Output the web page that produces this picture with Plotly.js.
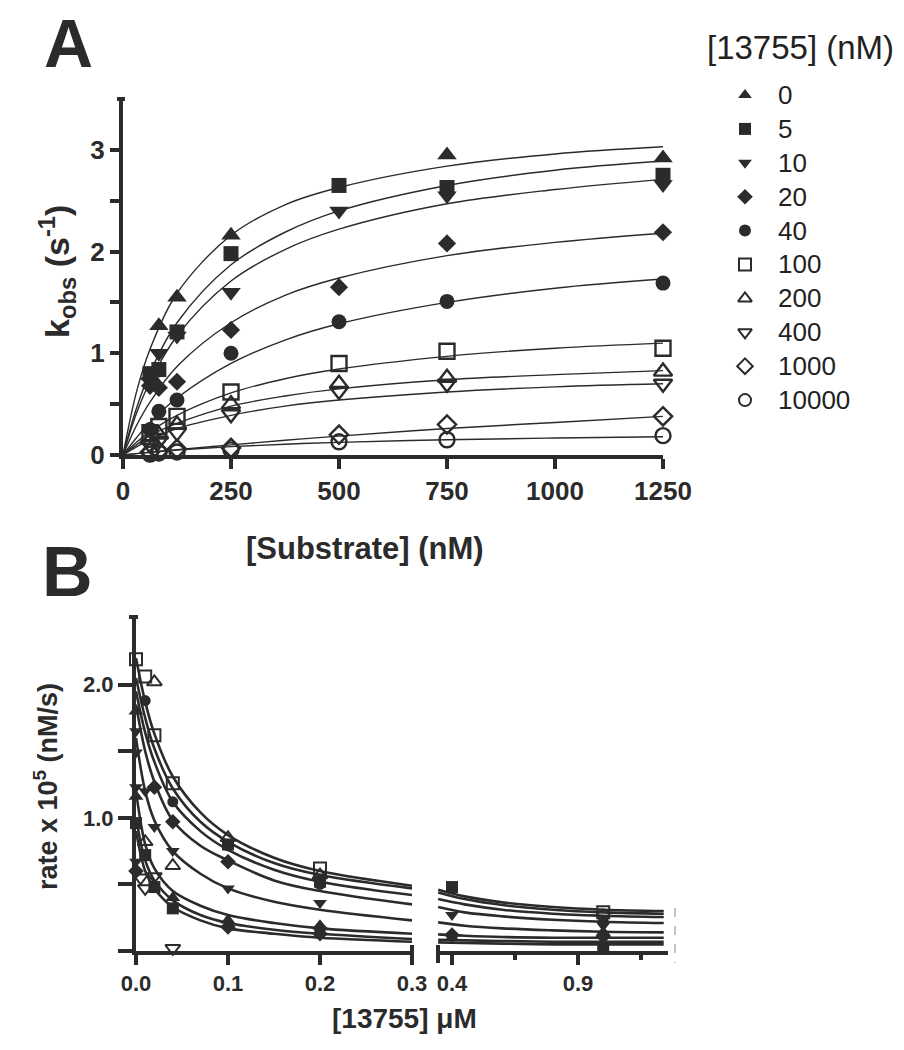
<!DOCTYPE html>
<html><head><meta charset="utf-8">
<script src="https://cdn.plot.ly/plotly-3.0.1.min.js"></script>
<style>html,body{margin:0;padding:0;background:#fff}</style>
</head><body><div id="chart" style="width:904px;height:1050px"></div>
<script>
// ---------- Panel A data ----------
const substrateNM = [62.5, 83, 125, 250, 500, 750, 1250];
const inhibitorLabels = ['0', '5', '10', '20', '40', '100', '200', '400', '1000', '10000'];
const kobs_0     = [0.78, 1.27, 1.55, 2.16, null, 2.95, 2.92];
const kobs_5     = [0.80, 0.84, 1.21, 1.98, 2.65, 2.63, 2.75];
const kobs_10    = [0.72, 1.00, 1.17, 1.60, 2.40, 2.55, 2.66];
const kobs_20    = [0.68, 0.66, 0.72, 1.23, 1.65, 2.08, 2.19];
const kobs_40    = [0.25, 0.43, 0.54, 1.00, 1.31, 1.51, 1.69];
const kobs_100   = [0.22, 0.28, 0.38, 0.62, 0.90, 1.02, 1.05];
const kobs_200   = [0.15, 0.20, 0.30, 0.50, 0.70, 0.76, 0.82];
const kobs_400   = [0.10, 0.14, 0.22, 0.40, 0.63, 0.70, 0.70];
const kobs_1000  = [0.03, 0.04, 0.06, 0.07, 0.20, 0.30, 0.38];
const kobs_10000 = [0.01, 0.02, 0.03, 0.05, 0.13, 0.15, 0.19];

// fitted curves
const fitSubstrateNM = [0, 31.25, 62.5, 125, 250, 375, 500, 750, 1000, 1250];
const fit_0     = [0, 0.62, 1.04, 1.59, 2.16, 2.46, 2.63, 2.84, 2.96, 3.03];
const fit_5     = [0, 0.46, 0.81, 1.30, 1.87, 2.19, 2.40, 2.65, 2.80, 2.89];
const fit_10    = [0, 0.41, 0.72, 1.17, 1.71, 2.02, 2.22, 2.47, 2.61, 2.71];
const fit_20    = [0, 0.29, 0.52, 0.87, 1.30, 1.57, 1.74, 1.96, 2.09, 2.18];
const fit_40    = [0, 0.17, 0.32, 0.56, 0.90, 1.13, 1.29, 1.50, 1.64, 1.73];
const fit_100   = [0, 0.125, 0.23, 0.39, 0.61, 0.75, 0.845, 0.97, 1.05, 1.10];
const fit_200   = [0, 0.10, 0.19, 0.31, 0.48, 0.58, 0.65, 0.74, 0.79, 0.83];
const fit_400   = [0, 0.08, 0.15, 0.26, 0.39, 0.48, 0.54, 0.62, 0.67, 0.70];
const fit_1000  = [0, 0.014, 0.027, 0.053, 0.10, 0.145, 0.186, 0.26, 0.32, 0.38];
const fit_10000 = [0, 0.014, 0.027, 0.049, 0.082, 0.106, 0.124, 0.15, 0.167, 0.18];

const xTicksA = [0, 250, 500, 750, 1000, 1250];
const yTicksA = [0, 1, 2, 3];
const yMinorTicksA = [0.5, 1.5, 2.5];

// ---------- Panel B data ----------
const rateX_openSquare = [0, 0.01, 0.02, 0.04, 0.2, 1.0];
const rateY_openSquare = [2.19, 2.06, 1.62, 1.26, 0.62, 0.29];
const rateX_openTriUp = [0.02, 0.01, 0.04, 0.1, 0.2];
const rateY_openTriUp = [2.02, 0.82, 0.64, 0.85, 0.57];
const rateX_triUp = [0, 0, 0.04, 0.1, 0.2, 0.4, 1.0];
const rateY_triUp = [1.80, 1.16, 0.40, 0.23, 0.19, 0.10, 0.14];
const rateX_triDown = [0, 0, 0, 0.01, 0.02, 0.04, 0.1, 0.2, 0.4, 1.0, 0];
const rateY_triDown = [1.65, 1.49, 1.23, 1.20, 0.93, 0.75, 0.47, 0.36, 0.27, 0.19, 0.67];
const rateX_circle = [0.01, 0.04, 0.1, 0.2, 1.0];
const rateY_circle = [1.88, 1.12, 0.79, 0.50, 0.22];
const rateX_diamond = [0.02, 0.04, 0.1, 0.1, 0.2, 0.2, 0.4, 1.0, 0];
const rateY_diamond = [1.23, 0.97, 0.67, 0.18, 0.17, 0.13, 0.12, 0.11, 0.60];
const rateX_square = [0, 0.01, 0.02, 0.04, 0.1, 0.2, 0.4, 1.0];
const rateY_square = [0.96, 0.72, 0.48, 0.32, 0.80, 0.52, 0.48, 0.03];
const rateX_openTriDown = [0.005, 0.01, 0.02, 0.04];
const rateY_openTriDown = [0.55, 0.47, 0.56, 0.02];
const rateX_openCircle = [1.0];
const rateY_openCircle = [0.27];

const fitInhibitorUM = [0, 0.01, 0.02, 0.04, 0.07, 0.1, 0.15, 0.2, 0.3, 0.345, 0.45, 0.6, 0.8, 1.0, 1.24];
const rateFit1 = [2.20, 1.87, 1.63, 1.31, 1.04, 0.87, 0.70, 0.60, 0.49, 0.46, 0.41, 0.365, 0.33, 0.31, 0.30];
const rateFit2 = [2.05, 1.75, 1.52, 1.22, 0.97, 0.82, 0.66, 0.57, 0.47, 0.44, 0.39, 0.345, 0.31, 0.29, 0.28];
const rateFit3 = [1.95, 1.64, 1.42, 1.12, 0.90, 0.76, 0.61, 0.52, 0.42, 0.39, 0.35, 0.31, 0.28, 0.265, 0.255];
const rateFit4 = [1.85, 1.50, 1.27, 0.98, 0.79, 0.68, 0.53, 0.45, 0.35, 0.33, 0.29, 0.26, 0.235, 0.22, 0.21];
const rateFit5 = [1.60, 1.20, 0.98, 0.75, 0.58, 0.47, 0.37, 0.31, 0.23, 0.215, 0.19, 0.17, 0.155, 0.145, 0.14];
const rateFit6 = [1.20, 0.80, 0.62, 0.45, 0.34, 0.27, 0.21, 0.17, 0.13, 0.125, 0.115, 0.105, 0.10, 0.10, 0.10];
const rateFit7 = [1.00, 0.68, 0.53, 0.38, 0.27, 0.21, 0.16, 0.13, 0.09, 0.085, 0.08, 0.075, 0.07, 0.07, 0.07];
const rateFit8 = [0.90, 0.60, 0.47, 0.33, 0.23, 0.17, 0.13, 0.10, 0.07, 0.065, 0.06, 0.055, 0.05, 0.05, 0.05];

// ---------- styling ----------
const INK = '#2b2b2b';
const FONT = 'Liberation Sans, Arial, sans-serif';
const W = 904, H = 1050;
const px = v => v / W;
const py = v => 1 - v / H;

const seriesA = [kobs_0, kobs_5, kobs_10, kobs_20, kobs_40, kobs_100, kobs_200, kobs_400, kobs_1000, kobs_10000];
const fitsA = [fit_0, fit_5, fit_10, fit_20, fit_40, fit_100, fit_200, fit_400, fit_1000, fit_10000];
const symbolsA = ['triangle-up', 'square', 'triangle-down', 'diamond', 'circle',
  'square-open', 'triangle-up-open', 'triangle-down-open', 'diamond-open', 'circle-open'];
const sizesA = [17, 15, 17, 14, 15, 15, 16, 16, 14, 15];

const traces = [];
fitsA.forEach(f => traces.push({
  x: fitSubstrateNM, y: f, mode: 'lines', xaxis: 'x', yaxis: 'y',
  line: {color: INK, width: 1.4, shape: 'spline', smoothing: 1}, showlegend: false, hoverinfo: 'skip'
}));
seriesA.forEach((s, i) => {
  const open = symbolsA[i].endsWith('open');
  traces.push({
    x: substrateNM, y: s, mode: 'markers', xaxis: 'x', yaxis: 'y',
    name: inhibitorLabels[i], showlegend: false, cliponaxis: false,
    marker: {symbol: symbolsA[i], size: sizesA[i], color: INK,
      line: {color: INK, width: open ? 2.4 : 0}}
  });
});

// panel B curves, split at the axis break
const fitsB = [rateFit1, rateFit2, rateFit3, rateFit4, rateFit5, rateFit6, rateFit7, rateFit8];
fitsB.forEach(f => {
  const L = fitInhibitorUM.map((x, k) => [x, f[k]]).filter(p => p[0] <= 0.3);
  const R = fitInhibitorUM.map((x, k) => [x, f[k]]).filter(p => p[0] > 0.3);
  traces.push({x: L.map(p => p[0]), y: L.map(p => p[1]), mode: 'lines', xaxis: 'x2', yaxis: 'y2',
    line: {color: INK, width: 2.6, shape: 'spline', smoothing: 1}, showlegend: false, hoverinfo: 'skip'});
  traces.push({x: R.map(p => p[0]), y: R.map(p => p[1]), mode: 'lines', xaxis: 'x3', yaxis: 'y2',
    line: {color: INK, width: 2.6, shape: 'spline', smoothing: 1}, showlegend: false, hoverinfo: 'skip'});
});
const pointsB = [
  [rateX_openSquare, rateY_openSquare, 'square-open', 12],
  [rateX_openTriUp, rateY_openTriUp, 'triangle-up-open', 13],
  [rateX_triUp, rateY_triUp, 'triangle-up', 13],
  [rateX_triDown, rateY_triDown, 'triangle-down', 12],
  [rateX_circle, rateY_circle, 'circle', 11],
  [rateX_diamond, rateY_diamond, 'diamond', 12],
  [rateX_square, rateY_square, 'square', 12],
  [rateX_openTriDown, rateY_openTriDown, 'triangle-down-open', 13],
  [rateX_openCircle, rateY_openCircle, 'circle-open', 11]
];
pointsB.forEach(([xs, ys, sym, sz]) => {
  const open = sym.endsWith('open');
  const pts = xs.map((x, k) => [x, ys[k]]);
  [['x2', pts.filter(p => p[0] <= 0.3)], ['x3', pts.filter(p => p[0] > 0.3)]].forEach(([ax, P]) => {
    if (!P.length) return;
    traces.push({x: P.map(p => p[0]), y: P.map(p => p[1]), mode: 'markers', xaxis: ax, yaxis: 'y2',
      showlegend: false, cliponaxis: false,
      marker: {symbol: sym, size: sz, color: INK, line: {color: INK, width: open ? 2 : 0}}});
  });
});

// ---------- hand-built legend (pixel-space overlay axis) ----------
const LEG_X = 745, LEG_Y0 = 95, LEG_STEP = 33.9, LEG_TEXT_X = 776;
symbolsA.forEach((sym, i) => {
  const open = sym.endsWith('open');
  traces.push({x: [LEG_X], y: [LEG_Y0 + LEG_STEP * i], mode: 'markers', xaxis: 'x4', yaxis: 'y3',
    showlegend: false, cliponaxis: false, hoverinfo: 'skip',
    marker: {symbol: sym, size: 12, color: INK, line: {color: INK, width: open ? 2 : 0}}});
});
const legendAnn = inhibitorLabels.map((lab, i) => ({
  text: lab, x: px(LEG_TEXT_X), y: py(LEG_Y0 + LEG_STEP * i), xref: 'paper', yref: 'paper',
  showarrow: false, xanchor: 'left', yanchor: 'middle',
  font: {family: FONT, size: 26, color: '#222'}
}));

const axisBase = {
  showline: true, linewidth: 4, linecolor: INK, ticks: 'outside', tickwidth: 4, tickcolor: INK,
  showgrid: false, zeroline: false, fixedrange: true,
  tickfont: {family: FONT, size: 26, color: INK, weight: 'bold'}
};
const hiddenAxis = {visible: false, showgrid: false, zeroline: false, fixedrange: true};

const layout = {
  width: W, height: H, margin: {l: 0, r: 0, t: 0, b: 0}, showlegend: false,
  paper_bgcolor: '#fff', plot_bgcolor: 'rgba(0,0,0,0)',
  font: {family: FONT, color: INK},
  xaxis: Object.assign({}, axisBase, {domain: [px(123), px(663)], range: [0, 1250], anchor: 'y',
    tickmode: 'array', tickvals: xTicksA, ticklen: 10}),
  yaxis: Object.assign({}, axisBase, {domain: [py(455), py(99)], range: [0, 3.5], anchor: 'x',
    tickmode: 'array', tickvals: yTicksA, ticklen: 9,
    minor: {tickmode: 'array', tickvals: yMinorTicksA, ticklen: 9, tickwidth: 4, tickcolor: INK, ticks: 'outside', showgrid: false}}),
  xaxis2: Object.assign({}, axisBase, {domain: [px(136), px(412)], range: [0, 0.3], anchor: 'y2',
    tickmode: 'array', tickvals: [0, 0.1, 0.2, 0.3], ticktext: ['0.0', '0.1', '0.2', '0.3'], ticklen: 10,
    tickfont: {family: FONT, size: 22, color: INK, weight: 'bold'}}),
  xaxis3: Object.assign({}, axisBase, {domain: [px(438), px(668)], range: [0.3444, 1.257], anchor: 'y2',
    tickmode: 'array', tickvals: [0.4, 0.9], ticktext: ['0.4', '0.9'], ticklen: 10,
    minor: {tickmode: 'array', tickvals: [0.65, 1.15], ticklen: 5, tickwidth: 4, tickcolor: INK, ticks: 'outside', showgrid: false},
    tickfont: {family: FONT, size: 22, color: INK, weight: 'bold'}}),
  yaxis2: Object.assign({}, axisBase, {domain: [py(951), py(618)], range: [0, 2.5], anchor: 'x2',
    tickmode: 'array', tickvals: [1, 2], ticktext: ['1.0', '2.0'], ticklen: 14,
    minor: {tickmode: 'array', tickvals: [0, 0.5, 1.5], ticklen: 14, tickwidth: 4, tickcolor: INK, ticks: 'outside', showgrid: false},
    tickfont: {family: FONT, size: 22, color: INK, weight: 'bold'}}),
  xaxis4: Object.assign({}, hiddenAxis, {domain: [0, 1], range: [0, W], anchor: 'y3'}),
  yaxis3: Object.assign({}, hiddenAxis, {domain: [0, 1], range: [H, 0], anchor: 'x4'}),
  annotations: [
    {text: 'A', x: px(68), y: py(43), xref: 'paper', yref: 'paper', showarrow: false,
      xanchor: 'center', yanchor: 'middle', font: {family: FONT, size: 68, color: INK, weight: 'bold'}},
    {text: 'B', x: px(67), y: py(572), xref: 'paper', yref: 'paper', showarrow: false,
      xanchor: 'center', yanchor: 'middle', font: {family: FONT, size: 70, color: INK, weight: 'bold'}},
    {text: 'k<sub>obs</sub> (s<sup>-1</sup>)', x: px(57), y: py(272), xref: 'paper', yref: 'paper',
      showarrow: false, textangle: -90, xanchor: 'center', yanchor: 'middle',
      font: {family: FONT, size: 34, color: INK, weight: 'bold'}},
    {text: '[Substrate] (nM)', x: px(365), y: py(548), xref: 'paper', yref: 'paper', showarrow: false,
      xanchor: 'center', yanchor: 'middle', font: {family: FONT, size: 31, color: INK, weight: 'bold'}},
    {text: 'rate x 10<sup>5</sup> (nM/s)', x: px(46), y: py(787), xref: 'paper', yref: 'paper',
      showarrow: false, textangle: -90, xanchor: 'center', yanchor: 'middle',
      font: {family: FONT, size: 27, color: INK, weight: 'bold'}},
    {text: '[13755] μM', x: px(404), y: py(1018), xref: 'paper', yref: 'paper', showarrow: false,
      xanchor: 'center', yanchor: 'middle', font: {family: FONT, size: 28, color: INK, weight: 'bold'}},
    {text: '[13755] (nM)', x: px(705), y: py(48), xref: 'paper', yref: 'paper', showarrow: false,
      xanchor: 'left', yanchor: 'middle', font: {family: FONT, size: 33, color: '#222'}}
  ].concat(legendAnn),
  shapes: [
    {type: 'line', xref: 'paper', yref: 'paper', x0: px(117), x1: px(125), y0: py(99), y1: py(99),
      line: {color: INK, width: 4}},
    {type: 'line', xref: 'paper', yref: 'paper', x0: px(129), x1: px(138), y0: py(617), y1: py(617),
      line: {color: INK, width: 4}},
    {type: 'line', xref: 'paper', yref: 'paper', x0: px(412), x1: px(412), y0: py(945), y1: py(963),
      line: {color: INK, width: 4}},
    {type: 'line', xref: 'paper', yref: 'paper', x0: px(438), x1: px(438), y0: py(945), y1: py(963),
      line: {color: INK, width: 4}},
    {type: 'line', xref: 'paper', yref: 'paper', x0: px(675), x1: px(675), y0: py(908), y1: py(963),
      line: {color: '#b0b0b0', width: 1.5, dash: 'dash'}}
  ]
};

Plotly.newPlot('chart', traces, layout, {displayModeBar: false, staticPlot: true}).then(gd => {
  // drop the empty placeholder title nodes Plotly creates for untitled axes / main title
  gd.querySelectorAll('text').forEach(t => {
    if (!t.textContent.trim()) t.remove();
  });
});
</script></body></html>
